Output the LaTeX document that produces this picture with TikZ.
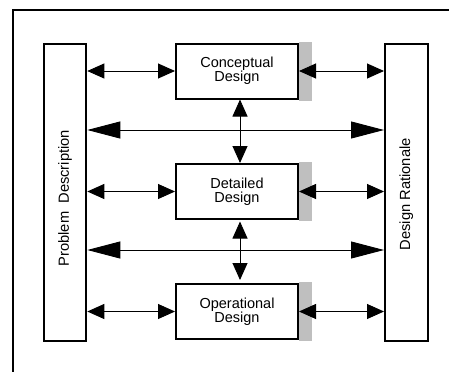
\documentclass[tikz,border=0pt]{standalone}
\usepackage{fontspec}
\setmainfont{Liberation Sans}
\usetikzlibrary{arrows.meta,calc}
\tikzset{
  frame/.style={line width=2pt},
  side/.style={draw,line width=2pt,minimum width=42.6pt,minimum height=297pt,inner sep=0pt},
  sidetext/.style={rotate=90,inner sep=0pt,font=\fontsize{14.7}{14}\selectfont},
  stage/.style={draw,line width=2pt,fill=white,minimum width=122pt,minimum height=55pt,align=center,inner sep=0pt,font=\fontsize{14.5}{13.7}\selectfont},
  shade/.style={fill=black!25,draw=none},
  small/.style={line width=0.9pt,{Triangle[length=17pt,width=15pt]}-{Triangle[length=17pt,width=15pt]}},
  big/.style={line width=0.9pt,{Triangle[length=33pt,width=17pt]}-{Triangle[length=33pt,width=17pt]}},
}
\begin{document}
\begin{tikzpicture}[x=1pt,y=-1pt]
\useasboundingbox (0,0) rectangle (449,372);
\draw[frame] (449,9.5) -- (12.5,9.5) -- (12.5,372);
\node[side] (pd) at (65,192.2) {};
\node[side] (dr) at (406.3,192.2) {};
\node[sidetext] (pdt) at ($(pd.center)+(0,6)$) {Problem\hspace{8pt}Description};
\node[sidetext] (drt) at ($(dr.center)+(0,2)$) {Design Rationale};
\node[stage] (c) at (237,71) {Conceptual\\Design};
\node[stage] (d) at (237,191.5) {Detailed\\Design};
\node[stage] (o) at (237,311.5) {Operational\\Design};
\foreach \n in {c,d,o}{
  \fill[shade] ([yshift=1pt]\n.north east) rectangle ($(\n.south east)+(13,1)$);
}
\coordinate (m1) at (0,130);
\coordinate (m2) at (0,250);
\draw[small] (pd.east |- c.west) -- (c.west);
\draw[small] (c.east) -- (dr.west |- c.east);
\draw[small] (pd.east |- d.west) -- (d.west);
\draw[small] (d.east) -- (dr.west |- d.east);
\draw[small] (pd.east |- o.west) -- (o.west);
\draw[small] (o.east) -- (dr.west |- o.east);
\draw[big] (pd.east |- m1) -- (dr.west |- m1);
\draw[big] (pd.east |- m2) -- (dr.west |- m2);
\draw[small] ([xshift=3pt]c.south) -- ([xshift=3pt]d.north);
\draw[small,shorten <=1.5pt,shorten >=3pt] ([xshift=3pt]d.south) -- ([xshift=3pt]o.north);
\end{tikzpicture}
\end{document}
